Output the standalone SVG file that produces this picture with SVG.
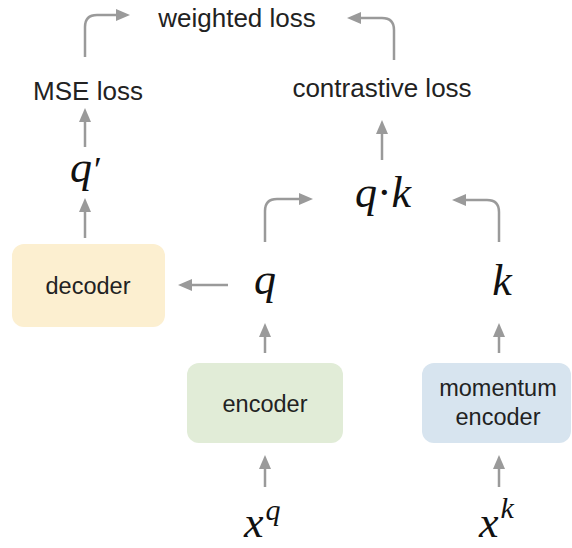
<svg xmlns="http://www.w3.org/2000/svg" width="572" height="548" viewBox="0 0 572 548">
  <style>
    .box-label { font-family: "Liberation Sans", Arial, sans-serif; font-size: 23.5px; fill: #222; text-anchor: middle; }
    .loss { font-family: "Liberation Sans", Arial, sans-serif; font-size: 26px; fill: #222; text-anchor: middle; }
    .math { font-family: "Liberation Serif", "Times New Roman", serif; font-style: italic; font-size: 44px; fill: #111; }
    .conn { fill: none; stroke: #9a9a9a; stroke-width: 2.5; marker-end: url(#head); }
  </style>
  <defs>
    <marker id="head" markerUnits="userSpaceOnUse" markerWidth="14" markerHeight="12" refX="2" refY="6" orient="auto">
      <path d="M0,0 L14,6 L0,12 z" fill="#9a9a9a"/>
    </marker>
  </defs>

  <rect width="572" height="548" fill="#ffffff"/>

  <!-- connectors -->
  <g id="connectors">
    <path class="conn" d="M85,57 V27 Q85,15 97,15 H118"/>
    <path class="conn" d="M394,60 V30 Q394,18 382,18 H359"/>
    <path class="conn" d="M85,147 V120"/>
    <path class="conn" d="M85,238 V210"/>
    <path class="conn" d="M382,160 V132"/>
    <path class="conn" d="M265,242 V211 Q265,199 277,199 H301"/>
    <path class="conn" d="M499,242 V212 Q499,200 487,200 H464"/>
    <path class="conn" d="M228,285 H190"/>
    <path class="conn" d="M265,353 V335"/>
    <path class="conn" d="M265,487 V467"/>
    <path class="conn" d="M499,353 V335"/>
    <path class="conn" d="M499,487 V467"/>
  </g>

  <!-- loss labels -->
  <g id="weighted-loss"><text class="loss" x="237" y="27">weighted loss</text></g>
  <g id="mse-loss"><text class="loss" x="88" y="100">MSE loss</text></g>
  <g id="contrastive-loss"><text class="loss" x="382" y="97">contrastive loss</text></g>

  <!-- symbols -->
  <g id="q-prime"><text class="math" x="70" y="182">q<tspan font-style="normal" font-size="36" dx="2">′</tspan></text></g>
  <g id="q-dot-k"><text class="math" x="383" y="207" text-anchor="middle">q<tspan font-style="normal">·</tspan>k</text></g>
  <g id="q"><text class="math" x="265" y="294" text-anchor="middle">q</text></g>
  <g id="k"><text class="math" x="502" y="295" text-anchor="middle">k</text></g>
  <g id="xq"><text class="math" x="244" y="537">x<tspan font-size="30" dy="-17" dx="2">q</tspan></text></g>
  <g id="xk"><text class="math" x="479" y="537">x<tspan font-size="30" dy="-19" dx="2">k</tspan></text></g>

  <!-- blocks -->
  <g id="decoder">
    <rect x="12" y="244" width="153" height="83" rx="12" fill="#fcefd0"/>
    <text class="box-label" x="88" y="294">decoder</text>
  </g>
  <g id="encoder">
    <rect x="187" y="363" width="156" height="80" rx="12" fill="#e1ecd7"/>
    <text class="box-label" x="265" y="412">encoder</text>
  </g>
  <g id="momentum-encoder">
    <rect x="422" y="363" width="149" height="80" rx="12" fill="#d7e4ef"/>
    <text class="box-label" x="498" y="396">momentum</text>
    <text class="box-label" x="498" y="425">encoder</text>
  </g>
</svg>
